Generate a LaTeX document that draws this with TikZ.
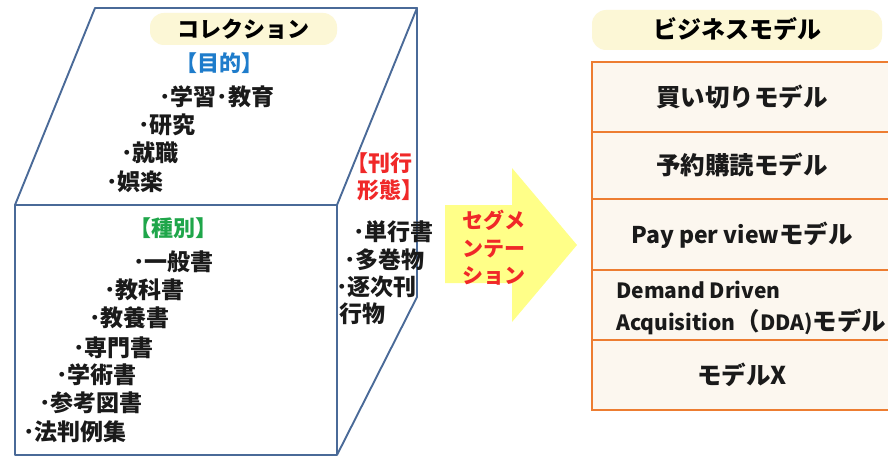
\documentclass[tikz,border=0pt]{standalone}
\usepackage{fontspec}
\setmainfont{Noto Sans CJK JP}
\definecolor{cubeblue}{HTML}{4A6A98}
\definecolor{orangeb}{HTML}{ED7D31}
\definecolor{boxfill}{HTML}{FCF7EF}
\definecolor{labfill}{HTML}{FCF7D6}
\definecolor{arrowy}{HTML}{FFFF88}
\definecolor{jblue}{HTML}{1E7CCB}
\definecolor{jgreen}{HTML}{1FA64A}
\definecolor{jred}{HTML}{F02828}
\definecolor{txtc}{HTML}{1A1A1A}
\newcommand{\latsz}[2]{{\fontsize{#1}{#1}\selectfont #2}}
\tikzset{
  itm/.style={inner sep=0pt, anchor=west, text=txtc, font=\bfseries\fontsize{23}{27}\selectfont, text height=20.2pt, text depth=2.8pt},
  hd/.style={inner sep=0pt, font=\bfseries\fontsize{22}{26}\selectfont, text height=19.4pt, text depth=2.6pt},
  bx/.style={draw=orangeb, line width=2.4pt, fill=boxfill, minimum width=300pt, inner sep=0pt, text=txtc, font=\bfseries\fontsize{24.5}{29}\selectfont, text height=21.6pt, text depth=2.9pt},
  bxt/.style={inner sep=0pt, anchor=west, text=txtc, font=\bfseries\fontsize{24.5}{29}\selectfont, text height=21.6pt, text depth=2.9pt},
  lab/.style={fill=labfill, rounded corners=14pt, inner sep=0pt},
  segt/.style={inner sep=0pt, text=jred, font=\bfseries\fontsize{21}{25}\selectfont, text height=18.5pt, text depth=2.5pt},
  edge/.style={draw=cubeblue, line width=1.9pt, line join=round}
}
\begin{document}
\begin{tikzpicture}[x=1pt,y=-1pt]
\useasboundingbox (0,0) rectangle (888,457);
\clip (0,0) rectangle (888,457);
\fill[white] (0,0) rectangle (888,457);
% cube
\coordinate (fTL) at (15,205);
\coordinate (fTR) at (337,205);
\coordinate (fBL) at (15,455);
\coordinate (fBR) at (337,455);
\coordinate (bTL) at (95,8);
\coordinate (bTR) at (417,8);
\coordinate (bBR) at (417,297);
\draw[edge] (fTL) -- (fTR) -- (fBR) -- (fBL) -- cycle;
\draw[edge] (fTL) -- (bTL) -- (bTR) -- (fTR);
\draw[edge] (bTR) -- (bBR) -- (fBR);
% top face
\node[lab, hd, minimum width=187pt, minimum height=32pt] (coll) at (243.5,29) {コレクション};
\node[hd, text=jblue] (mok) at (219,63) {【目的】};
\node[itm] (t1) at (159,97) {･学習･教育};
\node[itm] (t2) at (138,125) {･研究};
\node[itm] (t3) at (121,153) {･就職};
\node[itm] (t4) at (106,182) {･娯楽};
% side face
\node[hd, text=jred, anchor=west] (kk1) at (346,163) {【刊行};
\node[hd, text=jred, anchor=west] (kk2) at (357,190) {形態】};
\node[itm] (s1) at (353,232) {･単行書};
\node[itm] (s2) at (344,260) {･多巻物};
\node[itm] (s3) at (336,287) {･逐次刊};
\node[itm] (s4) at (339,314) {行物};
% front face
\node[hd, text=jgreen] (shu) at (173,228) {【種別】};
\node[itm] (f1) at (133,262) {･一般書};
\node[itm] (f2) at (104,290) {･教科書};
\node[itm] (f3) at (89,318) {･教養書};
\node[itm] (f4) at (73,348) {･専門書};
\node[itm] (f5) at (56,375) {･学術書};
\node[itm] (f6) at (39,403) {･参考図書};
\node[itm] (f7) at (23,432) {･法判例集};
% arrow
\fill[arrowy] (445,205) -- (512,205) -- (512,168) -- (577,245) -- (512,322) -- (512,283) -- (445,283) -- cycle;
\node[segt] (g1) at (494,220) {セグメ};
\node[segt] (g2) at (494,248) {ンテー};
\node[segt] (g3) at (494,275) {ション};
% business models
\node[lab, hd, font=\bfseries\fontsize{24}{28}\selectfont, minimum width=290pt, minimum height=40pt] (biz) at (737,30) {ビジネスモデル};
\node[bx, minimum height=70pt] (m1) at (742,97) {買い切りモデル};
\node[bx, minimum height=67pt] (m2) at (742,165.5) {予約購読モデル};
\node[bx, minimum height=71pt] (m3) at (742,234.5) {\latsz{23}{Pay per view}モデル};
\node[bx, minimum height=70pt] (m4) at (742,305) {};
\node[bx, minimum height=70pt] (m5) at (742,375) {モデルX};
\node[bxt] (d1) at (616,289) {\latsz{21}{Demand Driven}};
\node[bxt] (d2) at (616,321) {\latsz{21}{Acquisition}（\latsz{21}{DDA)}モデル};
\end{tikzpicture}
\end{document}
